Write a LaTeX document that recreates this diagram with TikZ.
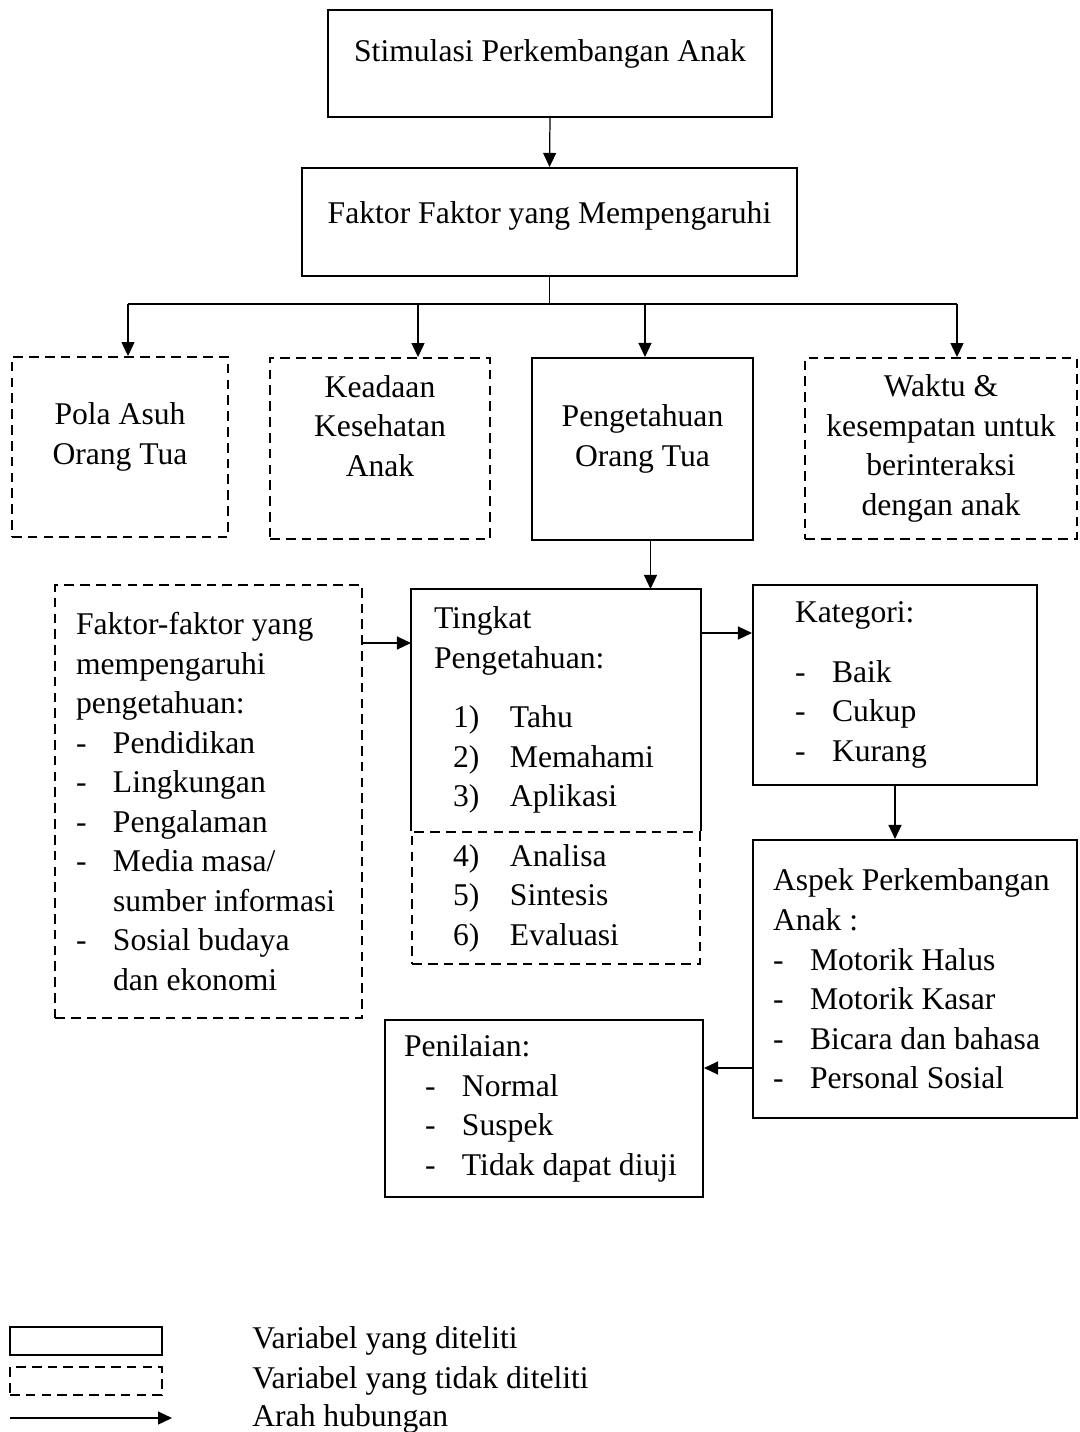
\documentclass[tikz,border=0pt]{standalone}
\usepackage{fontspec}
\setmainfont{Liberation Serif}
\usetikzlibrary{arrows.meta}

\newcommand{\dashitem}[1]{\makebox[0.74cm][l]{-}#1}
\newcommand{\numitem}[2]{\hspace*{0.38cm}\makebox[1.14cm][l]{#1)}#2}

\begin{document}
\begin{tikzpicture}[
    x=0.02cm, y=-0.02cm,
    font=\fontsize{18}{22.5}\selectfont,
    box/.style={
        rectangle,
        draw=black,
        line width=1.2pt,
        align=center,
        inner sep=0pt
    },
    dbox/.style={
        box,
        line width=1.1pt,
        dash pattern=on 5.5pt off 3.5pt
    },
    conn/.style={
        line width=0.7pt
    },
    arrow/.style={
        conn,
        ->,
        >={Triangle[length=0.28cm,width=0.26cm]}
    }
]
\useasboundingbox (0,0) rectangle (1079,1432);

% Top
\node[box, minimum width=8.88cm, minimum height=2.14cm, text depth=0.5cm] (stim) at (550,63.5) {Stimulasi Perkembangan Anak};
\node[box, minimum width=9.9cm, minimum height=2.16cm, text depth=0.36cm] (faktor) at (549.5,222) {Faktor Faktor yang Mempengaruhi};

% Factors
\node[dbox, minimum width=4.32cm, minimum height=3.6cm, text depth=0.54cm] (pola) at (120,447) {Pola Asuh\\Orang Tua};
\node[dbox, minimum width=4.4cm, minimum height=3.62cm, text depth=0.9cm] (keadaan) at (380,448.5) {Keadaan\\Kesehatan\\Anak};
\node[box, minimum width=4.42cm, minimum height=3.64cm, text depth=0.54cm] (peng) at (642.5,449) {Pengetahuan\\Orang Tua};
\node[dbox, minimum width=5.44cm, minimum height=3.62cm] (waktu) at (941,448.5) {Waktu \&\\kesempatan untuk\\berinteraksi\\dengan anak};

% Knowledge
\node[dbox, align=flush left, inner xsep=0.42cm, text width=5.3cm, minimum height=8.66cm] (faktorp) at (208.5,801.5) {Faktor-faktor yang\\mempengaruhi\\pengetahuan:\\\dashitem{Pendidikan}\\\dashitem{Lingkungan}\\\dashitem{Pengalaman}\\\dashitem{Media masa/}\\\hspace*{0.74cm}sumber informasi\\\dashitem{Sosial budaya}\\\hspace*{0.74cm}dan ekonomi};

\node[box, draw=none, align=flush left, inner xsep=0.44cm, text width=4.88cm, minimum height=4.8cm] (tingkat) at (556,710) {Tingkat\\Pengetahuan:\\[0.4cm]\numitem{1}{Tahu}\\\numitem{2}{Memahami}\\\numitem{3}{Aplikasi}};
\draw[line width=1.2pt] (tingkat.south west) -- (tingkat.north west) -- (tingkat.north east) -- (tingkat.south east);
\node[dbox, align=flush left, inner xsep=0.44cm, text width=4.88cm, minimum height=2.64cm, anchor=north] (tingkatb) at (tingkat.south) {\numitem{4}{Analisa}\\\numitem{5}{Sintesis}\\\numitem{6}{Evaluasi}};

\node[box, align=flush left, inner xsep=0.84cm, text width=4cm, minimum height=4cm] (kategori) at (895,685) {Kategori:\\[0.4cm]\dashitem{Baik}\\\dashitem{Cukup}\\\dashitem{Kurang}};

\node[box, align=flush left, inner xsep=0.4cm, text width=5.68cm, minimum height=5.56cm] (aspek) at (915,979) {Aspek Perkembangan\\Anak :\\\dashitem{Motorik Halus}\\\dashitem{Motorik Kasar}\\\dashitem{Bicara dan bahasa}\\\dashitem{Personal Sosial}};

\node[box, align=flush left, inner xsep=0.38cm, text width=5.6cm, minimum height=3.54cm] (nilai) at (544,1108.5) {Penilaian:\\\hspace*{0.42cm}\dashitem{Normal}\\\hspace*{0.42cm}\dashitem{Suspek}\\\hspace*{0.42cm}\dashitem{Tidak dapat diuji}};

% Arrows
\draw[arrow] (stim.south) -- (faktor.north);

\coordinate (bus1) at (128,304);
\coordinate (bus2) at (418,304);
\coordinate (bus3) at (645,304);
\coordinate (bus4) at (957,304);
\draw[conn] (faktor.south) -- (faktor.south |- bus1);
\draw[conn] (bus1) -- (bus4);
\draw[arrow] (bus1) -- (bus1 |- pola.north);
\draw[arrow] (bus2) -- (bus2 |- keadaan.north);
\draw[arrow] (bus3) -- (bus3 |- peng.north);
\draw[arrow] (bus4) -- (bus4 |- waktu.north);

\draw[arrow] ([xshift=0.16cm]peng.south) -- ([xshift=0.16cm]peng.south |- tingkat.north);

\coordinate (lv) at (0,643);
\draw[arrow] (faktorp.east |- lv) -- (tingkat.west |- lv);
\coordinate (kv) at (0,633);
\draw[arrow] (tingkat.east |- kv) -- (kategori.west |- kv);
\draw[arrow] (kategori.south) -- (kategori.south |- aspek.north);
\coordinate (av) at (0,1068);
\draw[arrow] (aspek.west |- av) -- (nilai.east |- av);

% Legend
\node[box, line width=1.1pt, minimum width=3.04cm, minimum height=0.56cm] (legsolid) at (86,1341) {};
\node[dbox, minimum width=3.04cm, minimum height=0.56cm] (legdash) at (86,1381) {};
\coordinate (legA) at (10,1418);
\coordinate (legB) at (172,1418);
\draw[arrow] (legA) -- (legB);
\node[anchor=west, inner sep=0pt] (legsolidt) at (252,1341) {Variabel yang diteliti};
\node[anchor=west, inner sep=0pt] (legdasht) at (252,1381) {Variabel yang tidak diteliti};
\node[anchor=west, inner sep=0pt] (legarrowt) at (252,1419) {Arah hubungan};

\end{tikzpicture}
\end{document}
